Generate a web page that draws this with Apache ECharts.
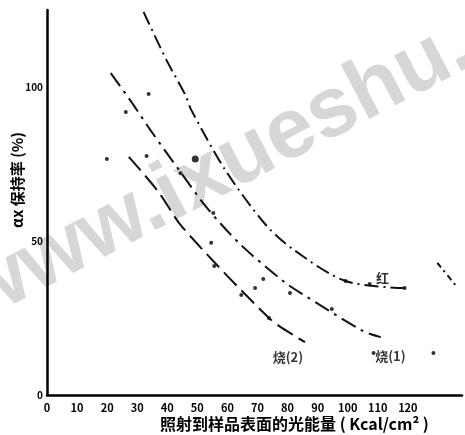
<!DOCTYPE html>
<html lang="zh">
<head>
<meta charset="UTF-8" />
<title>αx 保持率 - 光能量</title>
<script src="https://cdn.jsdelivr.net/npm/echarts@6.0.0/dist/echarts.min.js"></script>
<style>
  html, body { margin: 0; padding: 0; background: #fff; }
  #main { width: 465px; height: 435px; }
</style>
</head>
<body>
<div id="main"></div>
<script>
  // 曲线数据 [光能量, 保持率]
  const hongCurve = [[32.1, 124.4], [39.7, 108.8], [46, 97.4], [48, 92.5], [59.3, 73], [72.8, 55.2], [82.1, 47.1], [99.3, 37], [118.9, 34.7]];
  const shao1Curve = [[21.2, 104.5], [28.1, 95.1], [34.4, 86], [44.4, 72.4], [53, 61], [64.2, 49], [78.5, 37], [84.4, 33.1], [105, 20.8], [111, 18.8]];
  const shao2Curve = [[27.2, 77.3], [37.1, 65.9], [45, 54.5], [73.8, 25], [81.8, 19.5], [85.8, 17.2]];
  const rightSegment = [[129.8, 42.9], [135.8, 35.7]];

  // 实测点
  const points = [
    [33.8, 97.7], [26.2, 91.9], [33.1, 77.6], [19.9, 76.6], [44.4, 72],
    [55.3, 59.1], [54.6, 49.4], [55.6, 41.9], [71.9, 37.7], [69.2, 34.7],
    [64.6, 32.5], [73.8, 25], [80.8, 33.1], [94.7, 27.9], [108.6, 13.6],
    [128.5, 13.6], [118.9, 34.7], [107.3, 36], [99.3, 37]
  ];
  const bigPoints = [[49.3, 76.6]];

  // 曲线标注
  const curveLabels = [
    { name: '红', value: [111.6, 38] },
    { name: '烧(2)', value: [80.1, 12.3] },
    { name: '烧(1)', value: [114.2, 12.7] }
  ];

  const xTicks = [0, 10, 20, 30, 40, 50, 60, 70, 80, 90, 100, 110, 120];
  const yTicks = [0, 50, 100];

  const chart = echarts.init(document.getElementById('main'));
  const font = '"Noto Sans CJK SC", "DejaVu Sans", sans-serif';

  function curve(data, dash) {
    return {
      type: 'line',
      data: data,
      smooth: 0.3,
      symbol: 'none',
      silent: true,
      lineStyle: { color: '#111', width: 2, type: dash }
    };
  }

  chart.setOption({
    backgroundColor: '#fff',
    animation: false,
    grid: { left: 47, right: 0, top: 10, bottom: 40 },
    xAxis: {
      type: 'value',
      min: 0,
      max: 138,
      interval: 10,
      splitLine: { show: false },
      axisTick: { show: false },
      axisLine: { lineStyle: { color: '#000', width: 2.5 } },
      axisLabel: {
        color: '#000',
        fontSize: 11,
        fontWeight: 'bold',
        fontFamily: font,
        margin: 7,
        formatter: v => xTicks.includes(v) ? String(v) : ''
      }
    },
    yAxis: {
      type: 'value',
      min: 0,
      max: 125,
      interval: 50,
      splitLine: { show: false },
      axisTick: { show: false },
      axisLine: { lineStyle: { color: '#000', width: 2.5 } },
      axisLabel: {
        color: '#000',
        fontSize: 10,
        fontWeight: 'bold',
        fontFamily: font,
        margin: 4,
        formatter: v => yTicks.includes(v) ? String(v) : ''
      }
    },
    graphic: [
      {
        type: 'text',
        x: -14, y: 340,
        rotation: 0.48,
        z: -10,
        silent: true,
        style: {
          text: 'www.ixueshu.com',
          font: 'bold 85px "Liberation Sans", sans-serif',
          fill: 'rgba(175,175,175,0.5)',
          align: 'left',
          verticalAlign: 'bottom'
        }
      },
      {
        type: 'text',
        x: 160, y: 424,
        style: {
          text: '照射到样品表面的光能量 ( Kcal/cm² )',
          font: 'bold 16px "Noto Sans CJK SC", sans-serif',
          fill: '#000',
          verticalAlign: 'middle'
        }
      },
      {
        type: 'text',
        x: 17, y: 180,
        rotation: Math.PI / 2,
        style: {
          text: 'αx 保持率 (%)',
          font: 'bold 15px "Noto Sans CJK SC", sans-serif',
          fill: '#000',
          align: 'center',
          verticalAlign: 'middle'
        }
      }
    ],
    series: [
      curve(hongCurve, [14, 5, 2, 5]),
      curve(shao1Curve, [16, 6, 3, 6]),
      curve(shao2Curve, [18, 7]),
      curve(rightSegment, [6, 4, 2, 4]),
      {
        type: 'scatter',
        data: points,
        symbolSize: 4,
        itemStyle: { color: '#000' }
      },
      {
        type: 'scatter',
        data: bigPoints,
        symbolSize: 7,
        itemStyle: { color: '#000' }
      },
      {
        type: 'scatter',
        data: curveLabels,
        symbolSize: 0,
        label: {
          show: true,
          position: 'inside',
          formatter: p => p.name,
          color: '#000',
          fontSize: 13,
          fontWeight: 'bold',
          fontFamily: font
        }
      }
    ]
  });
</script>
</body>
</html>
